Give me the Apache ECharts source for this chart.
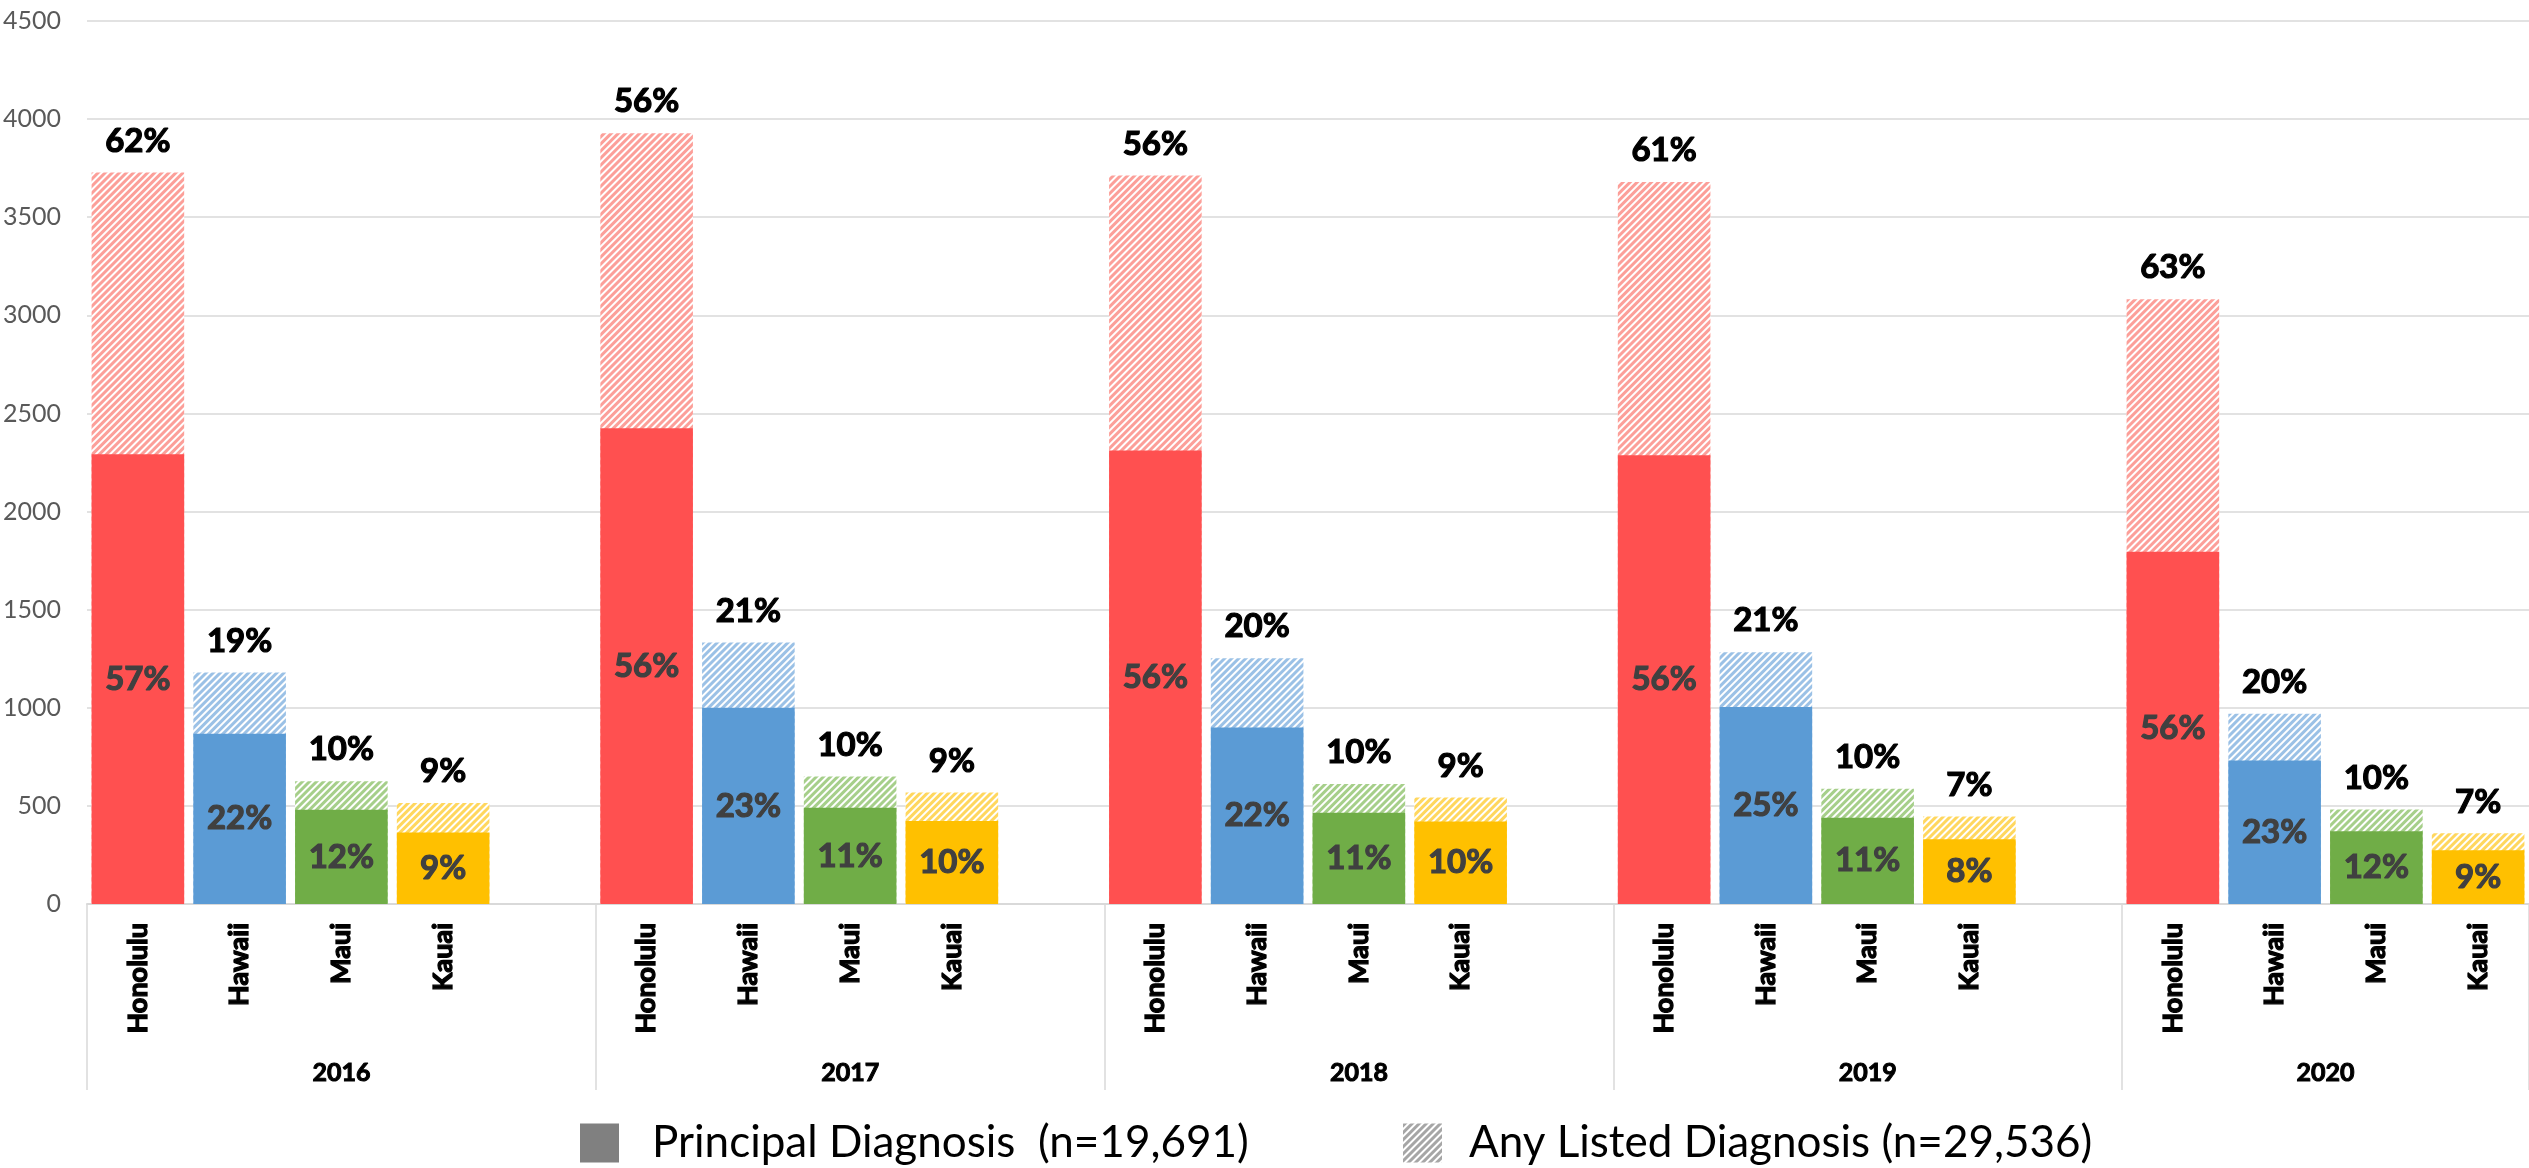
<!DOCTYPE html>
<html>
<head>
<meta charset="utf-8">
<script src="https://cdn.jsdelivr.net/npm/echarts@6/dist/echarts.min.js"></script>
<style>
html,body{margin:0;padding:0;background:#fff;}
#chart{width:2529px;height:1168px;}
</style>
</head>
<body>
<div id="chart"></div>
<script>
// ---- data ----
const years = ['2016', '2017', '2018', '2019', '2020'];
const counties = ['Honolulu', 'Hawaii', 'Maui', 'Kauai'];
const yTicks = [0, 500, 1000, 1500, 2000, 2500, 3000, 3500, 4000, 4500];

// Principal diagnosis counts (Honolulu, Hawaii, Maui, Kauai)
const principal2016 = [2292, 868, 480, 365];
const principal2017 = [2424, 1000, 490, 423];
const principal2018 = [2311, 900, 465, 420];
const principal2019 = [2287, 1004, 440, 330];
const principal2020 = [1795, 731, 371, 274];

// Any listed diagnosis counts
const any2016 = [3728, 1180, 626, 515];
const any2017 = [3928, 1333, 650, 568];
const any2018 = [3713, 1252, 612, 543];
const any2019 = [3680, 1283, 587, 446];
const any2020 = [3082, 970, 482, 360];

// Percentage labels
const principalPct2016 = ['57%', '22%', '12%', '9%'];
const principalPct2017 = ['56%', '23%', '11%', '10%'];
const principalPct2018 = ['56%', '22%', '11%', '10%'];
const principalPct2019 = ['56%', '25%', '11%', '8%'];
const principalPct2020 = ['56%', '23%', '12%', '9%'];
const anyPct2016 = ['62%', '19%', '10%', '9%'];
const anyPct2017 = ['56%', '21%', '10%', '9%'];
const anyPct2018 = ['56%', '20%', '10%', '9%'];
const anyPct2019 = ['61%', '21%', '10%', '7%'];
const anyPct2020 = ['63%', '20%', '10%', '7%'];

const principalName = 'Principal Diagnosis  (n=19,691)';
const anyName = 'Any Listed Diagnosis (n=29,536)';

// ---- styling ----
const solidColors = ['#FF5050', '#5B9BD5', '#70AD47', '#FFC000'];
const hatchColors = ['#FC9F99', '#9BC1E6', '#A6CF8A', '#FFD75E'];
const FONT = "Lato,'Open Sans','DejaVu Sans Condensed',sans-serif";

const principalByYear = [principal2016, principal2017, principal2018, principal2019, principal2020];
const anyByYear = [any2016, any2017, any2018, any2019, any2020];
const principalPctByYear = [principalPct2016, principalPct2017, principalPct2018, principalPct2019, principalPct2020];
const anyPctByYear = [anyPct2016, anyPct2017, anyPct2018, anyPct2019, anyPct2020];

function hatch(color) {
  return { symbol: 'rect', symbolSize: 1, color: color, dashArrayX: [1, 0], dashArrayY: [3, 2], rotation: -Math.PI / 4 };
}

const categories = [];
const principalData = [];
const anyData = [];
const groupStart = [];
const yearCenters = [];
years.forEach((yr, yi) => {
  groupStart.push(categories.length);
  counties.forEach((c, ci) => {
    categories.push(c);
    principalData.push({
      value: principalByYear[yi][ci],
      pct: principalPctByYear[yi][ci],
      itemStyle: { color: solidColors[ci] }
    });
    anyData.push({
      value: anyByYear[yi][ci],
      pct: anyPctByYear[yi][ci],
      itemStyle: { color: '#ffffff', decal: hatch(hatchColors[ci]) }
    });
  });
  if (yi < years.length - 1) {
    categories.push('');
    principalData.push('-');
    anyData.push('-');
  }
  const start = groupStart[yi];
  yearCenters.push((start + categories.length) / 2);
});
const nCat = categories.length;

const chart = echarts.init(document.getElementById('chart'), null, { renderer: 'canvas' });
chart.setOption({
  animation: false,
  backgroundColor: '#ffffff',
  grid: { left: 83, right: 0, top: 21, bottom: 264, containLabel: false },
  legend: [
    {
      data: [principalName], left: 575, top: 1116, icon: 'rect',
      itemWidth: 39, itemHeight: 39, selectedMode: false,
      textStyle: { fontFamily: FONT, fontSize: 44, color: '#000', padding: [0, 0, 0, 28] }
    },
    {
      data: [anyName], left: 1398, top: 1116, icon: 'rect',
      itemWidth: 39, itemHeight: 39, selectedMode: false,
      textStyle: { fontFamily: FONT, fontSize: 44, color: '#000', padding: [0, 0, 0, 22] }
    }
  ],
  xAxis: [
    {
      type: 'category', data: categories, position: 'bottom',
      axisLine: { show: true, lineStyle: { color: '#D9D9D9', width: 2 } },
      axisTick: {
        show: true, length: 186,
        interval: function (index) { return groupStart.indexOf(index) >= 0; },
        lineStyle: { color: '#D9D9D9', width: 1.5 }
      },
      axisLabel: {
        interval: 0, rotate: 90, margin: 19,
        fontFamily: FONT, fontSize: 27, fontWeight: 'bold', color: '#000',
        textBorderColor: '#000', textBorderWidth: 1.3
      },
      splitLine: { show: false }
    },
    {
      type: 'value', min: 0, max: nCat, position: 'bottom',
      axisLine: { show: false }, axisTick: { show: false }, splitLine: { show: false },
      axisLabel: {
        customValues: yearCenters, margin: 156,
        formatter: function (v) { const i = yearCenters.indexOf(v); return i >= 0 ? years[i] : ''; },
        fontFamily: FONT, fontSize: 25, fontWeight: 'bold', color: '#000',
        textBorderColor: '#000', textBorderWidth: 1
      }
    }
  ],
  yAxis: {
    type: 'value', min: yTicks[0], max: yTicks[yTicks.length - 1], interval: yTicks[1] - yTicks[0],
    axisLine: { show: false }, axisTick: { show: false },
    axisLabel: {
      margin: 26, fontFamily: FONT, fontSize: 25, color: '#595959',
      formatter: function (v) { return String(v); }
    },
    splitLine: { lineStyle: { color: '#D9D9D9', width: 1.5 } }
  },
  series: [
    {
      name: anyName, type: 'bar', xAxisIndex: 0, data: anyData,
      barCategoryGap: '9%', barGap: '-100%',
      itemStyle: { color: '#ffffff', decal: hatch('#A6A6A6') },
      label: {
        show: true, position: 'top', distance: 15,
        formatter: function (p) { return p.data && p.data.pct ? p.data.pct : ''; },
        fontFamily: FONT, fontSize: 33, fontWeight: 'bold', color: '#000',
        textBorderColor: '#000', textBorderWidth: 1.2
      },
      z: 1
    },
    {
      name: principalName, type: 'bar', xAxisIndex: 0, data: principalData,
      barCategoryGap: '9%', barGap: '-100%',
      itemStyle: { color: '#808080' },
      label: {
        show: true, position: 'inside',
        formatter: function (p) { return p.data && p.data.pct ? p.data.pct : ''; },
        fontFamily: FONT, fontSize: 33, fontWeight: 'bold', color: '#404040',
        textBorderColor: '#404040', textBorderWidth: 1.2
      },
      z: 2
    }
  ]
});
</script>
</body>
</html>
